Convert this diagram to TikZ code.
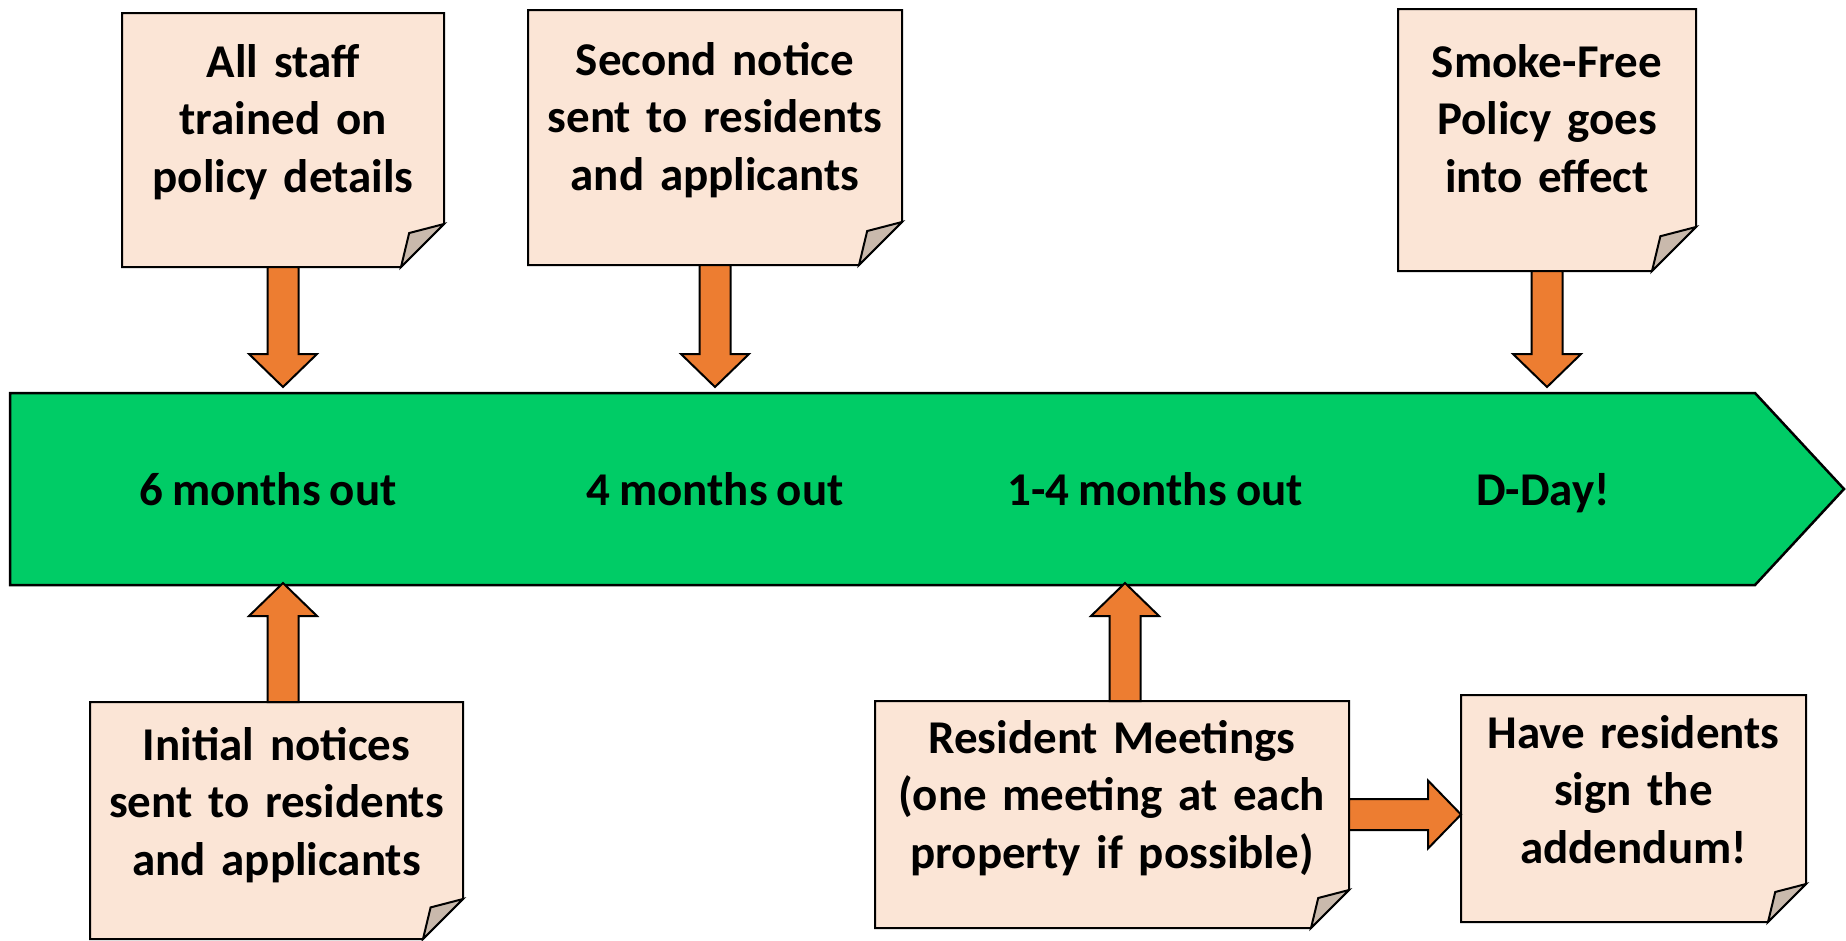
\documentclass[tikz,border=0pt]{standalone}
\usepackage{fontspec}
\setmainfont{Carlito}[WordSpace=0.85]
\usepackage{tikz}
\usetikzlibrary{calc}
\usetikzlibrary{backgrounds}
\definecolor{notebg}{HTML}{FBE5D6}
\definecolor{flapbg}{HTML}{C9B9AC}
\definecolor{arroworange}{HTML}{ED7D31}
\definecolor{railgreen}{HTML}{00CC66}
\tikzset{note/.style={inner sep=0pt, outer sep=0pt, align=center, anchor=north west, font=\bfseries\fontsize{47pt}{57.5pt}\selectfont}}
\tikzset{stage/.style={anchor=base, font=\bfseries\fontsize{47pt}{57.5pt}\selectfont}}
\tikzset{pointer/.style={fill=arroworange, draw=black, line width=2pt}}

% sticky note outline with folded corner
\newcommand{\notecorner}[2]{%
  \begin{scope}[on background layer]
    \filldraw[fill=notebg, line width=2pt] (#1.north west) -- (#1.north east) -- ($(#1.south east)+(0,-#2)$) -- ($(#1.south east)+(-#2,0)$) -- (#1.south west) -- cycle;
  \end{scope}
  \filldraw[fill=flapbg, line width=2pt] ($(#1.south east)+(-#2,0)$) -- ($(#1.south east)+(-0.81*#2,-0.79*#2)$) -- ($(#1.south east)+(0,-#2)$) -- cycle;
}
% block arrow from #1 to #2
\newcommand{\blockarrow}[2]{%
  \path (#1) coordinate (ba) (#2) coordinate (bb);
  \path ($(bb)!33pt!(ba)$) coordinate (bh);
  \filldraw[pointer] ($(ba)!15.5pt!90:(bb)$) -- ($(bh)!15.5pt!90:(bb)$) -- ($(bh)!34pt!90:(bb)$) -- (bb) -- ($(bh)!34pt!-90:(bb)$) -- ($(bh)!15.5pt!-90:(bb)$) -- ($(ba)!15.5pt!-90:(bb)$) -- cycle;
}

\begin{document}
\begin{tikzpicture}[x=1pt, y=-1pt, line join=miter]
  \useasboundingbox (0,0) rectangle (1846,940);
  % timeline
  \filldraw[fill=railgreen, line width=2.5pt] (10,393) -- (1755,393) -- (1844,489) -- (1755,585) -- (10,585) -- cycle;
  \coordinate (railtop) at (0,387);
  \coordinate (up6) at (283,583);
  \coordinate (up14) at (1125,583);
  \node[stage] (m6) at (268,505) {6 months out};
  \node[stage] (m4) at (715,505) {4 months out};
  \node[stage] (m14) at (1155,505) {1-4 months out};
  \node[stage] (dday) at (1543,505) {D-Day!};

  % notes above
  \node[note, text width=322pt, text height=64pt, text depth=190pt] (staff) at (122,13) {All staff\\trained on\\policy details};
  \notecorner{staff}{43}
  \node[note, text width=374pt, text height=65pt, text depth=190pt] (notice) at (528,10) {Second notice\\sent to residents\\and applicants};
  \notecorner{notice}{43}
  \node[note, text width=298pt, text height=68pt, text depth=194pt] (smoke) at (1398,9) {Smoke-Free\\Policy goes\\into effect};
  \notecorner{smoke}{44}

  % notes below
  \node[note, text width=373pt, text height=58pt, text depth=179pt] (initial) at (90,702) {Initial notices\\sent to residents\\and applicants};
  \notecorner{initial}{40}
  \node[note, text width=474pt, text height=52pt, text depth=175pt] (meeting) at (875,701) {Resident Meetings\\(one meeting at each\\property if possible)};
  \notecorner{meeting}{38}
  \node[note, text width=345pt, text height=53pt, text depth=174pt] (addendum) at (1461,695) {Have residents\\sign the\\addendum!};
  \notecorner{addendum}{38}

  % pointers
  \blockarrow{staff.south}{staff.south |- railtop}
  \blockarrow{notice.south}{notice.south |- railtop}
  \blockarrow{smoke.south}{smoke.south |- railtop}
  \blockarrow{up6 |- initial.north}{up6}
  \blockarrow{up14 |- meeting.north}{up14}
  \blockarrow{meeting.east}{meeting.east -| addendum.west}
\end{tikzpicture}
\end{document}
